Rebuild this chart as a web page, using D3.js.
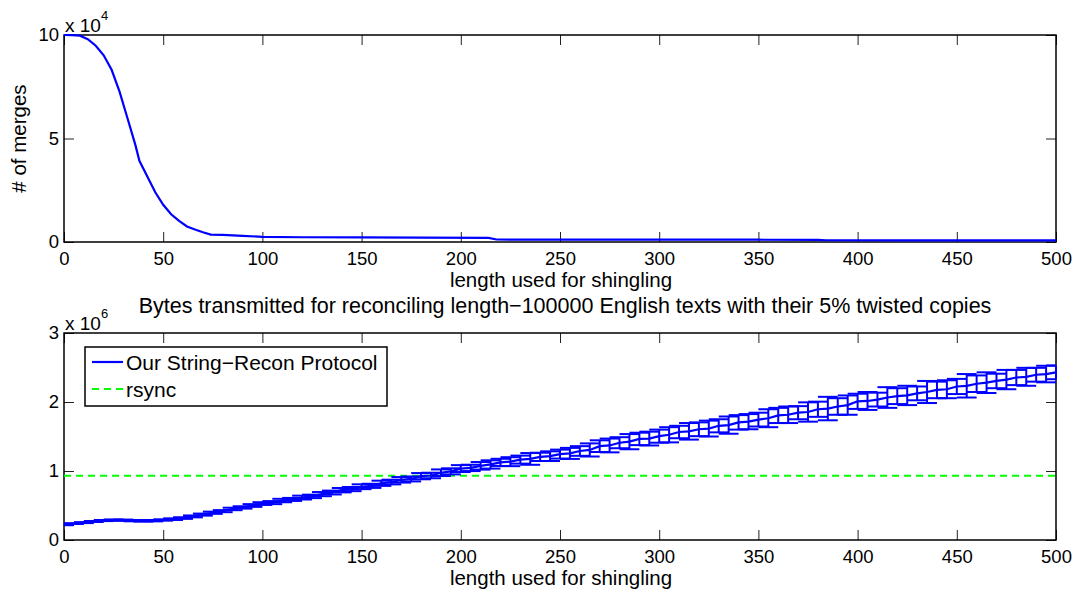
<!DOCTYPE html>
<html>
<head>
<meta charset="utf-8">
<script src="https://cdn.jsdelivr.net/npm/d3@7"></script>
<style>
  body { margin: 0; background: #fff; }
  text { font-family: "Liberation Sans", Arial, Helvetica, sans-serif; fill: #000; }
</style>
</head>
<body>
<div id="chart"></div>
<script>
// top panel: number of merges vs shingle length
const mergeLen = [0, 4, 8, 12, 16, 20, 24, 28, 32, 36, 38, 42, 46, 50, 54, 58, 62, 66, 70, 74, 80, 90, 100, 120, 150, 180, 214, 218, 250, 300, 350, 380, 384, 420, 460, 500];
const mergeCount = [100000, 99900, 99700, 98000, 94800, 90200, 83200, 72600, 59800, 46800, 39200, 31700, 24000, 18000, 13400, 10200, 7500, 6000, 4700, 3600, 3400, 3000, 2500, 2300, 2200, 2100, 2000, 1200, 1150, 1150, 1100, 1050, 850, 800, 780, 750];

// bottom panel: bytes transmitted (in millions), mean and error half-width
const shingleLen = [0,5,10,15,20,25,30,35,40,45,50,55,60,65,70,75,80,85,90,95,100,105,110,115,120,125,130,135,140,145,150,155,160,165,170,175,180,185,190,195,200,205,210,215,220,225,230,235,240,245,250,255,260,265,270,275,280,285,290,295,300,305,310,315,320,325,330,335,340,345,350,355,360,365,370,375,380,385,390,395,400,405,410,415,420,425,430,435,440,445,450,455,460,465,470,475,480,485,490,495,500];
const bytesMean = [0.220,0.238,0.252,0.268,0.282,0.290,0.288,0.280,0.276,0.280,
  0.290,0.302,0.318,0.342,0.368,0.395,0.418,0.450,0.472,0.500,
  0.528,0.542,0.572,0.588,0.615,0.632,0.665,0.688,0.722,0.738,
  0.772,0.785,0.822,0.840,0.872,0.885,0.925,0.935,0.975,0.995,
  1.035,1.045,1.075,1.095,1.125,1.135,1.165,1.175,1.205,1.215,
  1.245,1.255,1.290,1.305,1.360,1.370,1.410,1.425,1.465,1.470,
  1.505,1.525,1.565,1.575,1.605,1.615,1.655,1.665,1.705,1.715,
  1.745,1.765,1.805,1.815,1.845,1.855,1.895,1.905,1.935,1.955,
  2.010,2.015,2.035,2.065,2.085,2.095,2.125,2.145,2.175,2.185,
  2.225,2.235,2.265,2.280,2.305,2.325,2.355,2.365,2.395,2.405,
  2.430];
const bytesErr = [0.006,0.006,0.007,0.007,0.008,0.008,0.008,0.009,0.009,0.010,
  0.010,0.012,0.012,0.014,0.015,0.016,0.015,0.018,0.017,0.020,
  0.020,0.022,0.025,0.022,0.028,0.025,0.030,0.028,0.032,0.030,
  0.035,0.030,0.038,0.034,0.040,0.036,0.045,0.040,0.048,0.044,
  0.050,0.046,0.055,0.060,0.052,0.065,0.058,0.085,0.060,0.070,
  0.065,0.080,0.070,0.095,0.085,0.100,0.080,0.110,0.090,0.100,
  0.095,0.110,0.090,0.120,0.100,0.115,0.095,0.125,0.105,0.110,
  0.100,0.130,0.110,0.120,0.095,0.140,0.110,0.170,0.120,0.140,
  0.110,0.130,0.100,0.150,0.115,0.140,0.100,0.160,0.120,0.130,
  0.110,0.170,0.120,0.150,0.105,0.140,0.110,0.130,0.100,0.120,
  0.100];
const rsyncBytes = 0.93;

const xTicks = [0, 50, 100, 150, 200, 250, 300, 350, 400, 450, 500];
const topYTicks = [0, 50000, 100000];
const botYTicks = [0, 1, 2, 3];
const legendLabels = ["Our String\u2212Recon Protocol", "rsync"];

const W = 1089, H = 591;
const left = 64, right = 1056;
const top1 = 35, bot1 = 242;
const top2 = 333, bot2 = 540;
const tickLen = 10;

const svg = d3.select("#chart").append("svg")
    .attr("width", W)
    .attr("height", H);

const x = d3.scaleLinear().domain([0, 500]).range([left, right]);
const y1 = d3.scaleLinear().domain([0, 100000]).range([bot1, top1]);
const y2 = d3.scaleLinear().domain([0, 3]).range([bot2, top2]);

function drawFrame(y, yTicks, yFmt, yTop, yBot) {
    const g = svg.append("g");
    // bottom axis with labels
    const ax = g.append("g").attr("transform", `translate(0,${yBot})`)
        .call(d3.axisBottom(x).tickValues(xTicks).tickSize(-tickLen).tickPadding(10).tickFormat(d3.format("d")));
    // top ticks
    const at = g.append("g").attr("transform", `translate(0,${yTop})`)
        .call(d3.axisTop(x).tickValues(xTicks).tickSize(-tickLen).tickFormat(""));
    // left axis with labels
    const ay = g.append("g").attr("transform", `translate(${left},0)`)
        .call(d3.axisLeft(y).tickValues(yTicks).tickSize(-tickLen).tickPadding(5).tickFormat(yFmt));
    // right ticks
    const ar = g.append("g").attr("transform", `translate(${right},0)`)
        .call(d3.axisRight(y).tickValues(yTicks).tickSize(-tickLen).tickFormat(""));
    [ax, at, ay, ar].forEach(a => {
        a.select(".domain").remove();
        a.selectAll(".tick line").attr("stroke", "#222").attr("stroke-width", 1);
        a.selectAll("text").style("font-size", "18.5px").attr("fill", "#000");
    });
    g.append("rect")
        .attr("x", left).attr("y", yTop)
        .attr("width", right - left).attr("height", yBot - yTop)
        .attr("fill", "none").attr("stroke", "#000").attr("stroke-width", 1.5);
    return g;
}

function exponentLabel(yTop, power) {
    const t = svg.append("text")
        .attr("x", left + 1).attr("y", yTop - 3)
        .style("font-size", "19px");
    t.append("tspan").text("x 10");
    t.append("tspan").attr("dy", -12).style("font-size", "13px").text(power);
}

// ---------- top panel ----------
drawFrame(y1, topYTicks, d => d / 10000, top1, bot1);
exponentLabel(top1, "4");

svg.append("path")
    .datum(mergeLen.map((l, i) => [l, mergeCount[i]]))
    .attr("fill", "none")
    .attr("stroke", "#0000ff")
    .attr("stroke-width", 2.2)
    .attr("d", d3.line().x(d => x(d[0])).y(d => y1(d[1])));

svg.append("text")
    .attr("transform", `translate(26,${(top1 + bot1) / 2}) rotate(-90)`)
    .attr("text-anchor", "middle")
    .style("font-size", "20.5px")
    .text("# of merges");

svg.append("text")
    .attr("x", 561).attr("y", bot1 + 45)
    .attr("text-anchor", "middle")
    .style("font-size", "20.5px")
    .text("length used for shingling");

// ---------- bottom panel ----------
drawFrame(y2, botYTicks, d3.format("d"), top2, bot2);
exponentLabel(top2, "6");

svg.append("text")
    .attr("x", 565).attr("y", 313)
    .attr("text-anchor", "middle")
    .style("font-size", "21.5px")
    .text("Bytes transmitted for reconciling length\u2212100000 English texts with their 5% twisted copies");

svg.append("text")
    .attr("x", 561).attr("y", bot2 + 45)
    .attr("text-anchor", "middle")
    .style("font-size", "20.5px")
    .text("length used for shingling");

// rsync dashed line
svg.append("line")
    .attr("x1", x(0)).attr("x2", x(500))
    .attr("y1", y2(rsyncBytes)).attr("y2", y2(rsyncBytes))
    .attr("stroke", "#00ff00").attr("stroke-width", 2)
    .attr("stroke-dasharray", "7,5");

const pts = shingleLen.map((l, i) => ({ l: l, m: bytesMean[i], e: bytesErr[i] }));
const capHalf = 5; // in x data units

const bars = svg.append("g")
    .attr("stroke", "#0000ff")
    .attr("stroke-width", 2)
    .attr("fill", "none");

bars.selectAll(".stem").data(pts).enter().append("line")
    .attr("x1", d => x(d.l)).attr("x2", d => x(d.l))
    .attr("y1", d => y2(d.m - d.e)).attr("y2", d => y2(d.m + d.e));
bars.selectAll(".capt").data(pts).enter().append("line")
    .attr("x1", d => Math.max(left, x(d.l - capHalf))).attr("x2", d => Math.min(right, x(d.l + capHalf)))
    .attr("y1", d => y2(d.m + d.e)).attr("y2", d => y2(d.m + d.e));
bars.selectAll(".capb").data(pts).enter().append("line")
    .attr("x1", d => Math.max(left, x(d.l - capHalf))).attr("x2", d => Math.min(right, x(d.l + capHalf)))
    .attr("y1", d => y2(d.m - d.e)).attr("y2", d => y2(d.m - d.e));

bars.append("path")
    .datum(pts)
    .attr("stroke-width", 2.2)
    .attr("d", d3.line().x(d => x(d.l)).y(d => y2(d.m)));

// legend
const lg = svg.append("g");
lg.append("rect")
    .attr("x", 85).attr("y", 347).attr("width", 302).attr("height", 59)
    .attr("fill", "#fff").attr("stroke", "#000").attr("stroke-width", 1.5);
lg.append("line")
    .attr("x1", 92).attr("x2", 123).attr("y1", 362).attr("y2", 362)
    .attr("stroke", "#0000ff").attr("stroke-width", 2.2);
lg.append("line")
    .attr("x1", 92).attr("x2", 123).attr("y1", 389).attr("y2", 389)
    .attr("stroke", "#00ff00").attr("stroke-width", 2).attr("stroke-dasharray", "7,5");
lg.selectAll(".lt").data(legendLabels).enter().append("text")
    .attr("x", 126)
    .attr("y", (d, i) => 369.5 + i * 27)
    .style("font-size", "21px")
    .text(d => d);
</script>
</body>
</html>
